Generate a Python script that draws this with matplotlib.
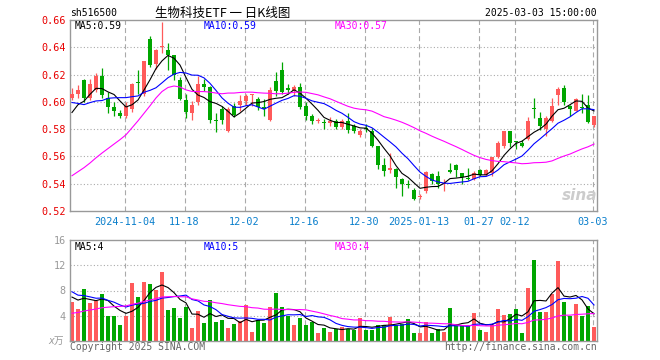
import matplotlib

matplotlib.use("Agg")
import matplotlib.pyplot as plt
import numpy as np
import pandas as pd

# ---- data ----
symbol = "sh516500"
title = "生物科技ETF 一 日K线图"
stamp = "2025-03-03 15:00:00"

holidays = ["2025-01-01", "2025-01-28", "2025-01-29", "2025-01-30", "2025-01-31",
            "2025-02-03", "2025-02-04"]
dates = [d.strftime("%Y-%m-%d") for d in pd.bdate_range("2024-10-22", "2025-03-03")
         if d.strftime("%Y-%m-%d") not in holidays]

tick_dates = ["2024-11-04", "2024-11-18", "2024-12-02", "2024-12-16", "2024-12-30",
              "2025-01-13", "2025-01-27", "2025-02-12", "2025-03-03"]
tick_text = ["2024-11-04", "11-18", "12-02", "12-16", "12-30",
             "2025-01-13", "01-27", "02-12", "03-03"]

open_ = [0.603, 0.6057, 0.616, 0.603, 0.609, 0.619, 0.603, 0.5965, 0.5917, 0.5893,
         0.5945, 0.6147, 0.6057, 0.6458, 0.628, 0.6405, 0.638, 0.634, 0.616, 0.6015,
         0.5915, 0.6002, 0.613, 0.611, 0.5866, 0.5945, 0.5788, 0.597, 0.5978, 0.6005,
         0.6048, 0.602, 0.5965, 0.5867, 0.6153, 0.6235, 0.6096, 0.6078, 0.611, 0.597,
         0.5895, 0.5858, 0.5852, 0.5843, 0.586, 0.5818, 0.586, 0.582, 0.5757, 0.5808,
         0.579, 0.568, 0.5535, 0.550, 0.551, 0.5432, 0.5395, 0.5357, 0.5302, 0.535,
         0.547, 0.5457, 0.5395, 0.5503, 0.554, 0.5478, 0.5443, 0.5435, 0.5503, 0.5462,
         0.5475, 0.5595, 0.5675, 0.5784, 0.5708, 0.5698, 0.573, 0.595, 0.5882, 0.580,
         0.5858, 0.6048, 0.610, 0.5967, 0.5935, 0.5958, 0.5975, 0.5827]
high = [0.610, 0.612, 0.617, 0.617, 0.621, 0.625, 0.6075, 0.600, 0.594, 0.600,
        0.6135, 0.623, 0.630, 0.648, 0.6385, 0.6588, 0.6435, 0.6345, 0.618, 0.6055,
        0.6007, 0.619, 0.617, 0.6115, 0.592, 0.597, 0.5965, 0.5995, 0.605, 0.606,
        0.6055, 0.6035, 0.602, 0.611, 0.622, 0.629, 0.6133, 0.612, 0.6135, 0.600,
        0.591, 0.5885, 0.5875, 0.589, 0.5875, 0.5875, 0.592, 0.5837, 0.580, 0.5835,
        0.581, 0.568, 0.5585, 0.5625, 0.5515, 0.5445, 0.543, 0.5365, 0.5325, 0.5495,
        0.5475, 0.5495, 0.5432, 0.5555, 0.5545, 0.548, 0.5515, 0.5495, 0.5505, 0.5505,
        0.5598, 0.5715, 0.579, 0.5788, 0.5712, 0.572, 0.5887, 0.6027, 0.5925, 0.5895,
        0.6027, 0.6108, 0.6125, 0.5975, 0.6025, 0.6058, 0.605, 0.5894]
low = [0.601, 0.603, 0.600, 0.601, 0.607, 0.603, 0.5915, 0.5895, 0.588, 0.5885,
       0.5925, 0.6055, 0.604, 0.6255, 0.624, 0.6357, 0.6235, 0.616, 0.601, 0.5885,
       0.5867, 0.598, 0.6076, 0.5843, 0.578, 0.584, 0.578, 0.589, 0.593, 0.598,
       0.597, 0.594, 0.5895, 0.586, 0.604, 0.606, 0.606, 0.6045, 0.5945, 0.5867,
       0.5835, 0.5842, 0.580, 0.5825, 0.580, 0.580, 0.577, 0.577, 0.574, 0.578,
       0.567, 0.5505, 0.5455, 0.5478, 0.537, 0.531, 0.5368, 0.528, 0.529, 0.5335,
       0.5395, 0.537, 0.5345, 0.548, 0.5447, 0.540, 0.543, 0.5428, 0.5455, 0.5455,
       0.5455, 0.5585, 0.566, 0.5667, 0.5657, 0.5667, 0.5722, 0.5882, 0.5797, 0.5747,
       0.585, 0.598, 0.5977, 0.590, 0.593, 0.5918, 0.5845, 0.5814]
close = [0.606, 0.6086, 0.603, 0.613, 0.619, 0.605, 0.5965, 0.5935, 0.5893, 0.597,
         0.613, 0.6140, 0.630, 0.627, 0.638, 0.6412, 0.634, 0.6197, 0.602, 0.5925,
         0.5977, 0.613, 0.6108, 0.5867, 0.5862, 0.5865, 0.595, 0.5905, 0.6007, 0.6043,
         0.6052, 0.5965, 0.5945, 0.6087, 0.6082, 0.6075, 0.6090, 0.6108, 0.5965, 0.5895,
         0.586, 0.5862, 0.5848, 0.586, 0.5815, 0.586, 0.5795, 0.5788, 0.5789, 0.5803,
         0.568, 0.5535, 0.549, 0.5512, 0.5447, 0.5395, 0.539, 0.5288, 0.5312, 0.5485,
         0.542, 0.5395, 0.540, 0.5488, 0.5503, 0.5447, 0.5435, 0.5478, 0.5462, 0.5503,
         0.5595, 0.5695, 0.5784, 0.570, 0.5705, 0.5675, 0.586, 0.5946, 0.582, 0.5882,
         0.5967, 0.6097, 0.600, 0.595, 0.602, 0.5952, 0.5852, 0.5894]
# volume, unit 10k
volume = [6.18, 5.14, 8.26, 6.03, 6.34, 7.48, 3.9, 3.9, 2.6, 4.0,
          9.14, 6.96, 9.3, 9.0, 8.1, 11.0, 4.93, 5.3, 3.58, 5.4,
          2.13, 4.78, 2.9, 6.5, 3.06, 3.38, 2.13, 2.75, 3.17, 5.71,
          1.5, 3.27, 2.9, 5.4, 7.58, 5.4, 3.9, 2.6, 3.69, 2.6,
          2.96, 1.2, 2.13, 1.5, 1.92, 2.29, 1.92, 1.77, 3.69, 1.82,
          1.7, 2.6, 2.6, 3.84, 2.6, 2.65, 3.53, 1.2, 1.2, 3.06,
          1.2, 1.92, 1.5, 5.25, 2.65, 2.55, 2.55, 4.47, 1.82, 1.5,
          2.55, 5.09, 4.16, 4.31, 5.09, 1.2, 8.36, 12.9, 4.62, 4.62,
          7.43, 12.7, 6.18, 3.9, 5.87, 3.9, 5.56, 2.29]

# sessions before the visible window, only feed the moving averages
prior_close = [0.52, 0.515, 0.51, 0.505, 0.50, 0.498, 0.495, 0.492, 0.49,
               0.46, 0.46, 0.465, 0.462, 0.465, 0.50, 0.545, 0.587,
               0.625, 0.655, 0.632,
               0.615, 0.612, 0.598, 0.607, 0.602,
               0.580, 0.590, 0.588, 0.597]
prior_volume = [1.5, 1.4, 1.3, 1.5, 1.4, 1.3, 1.5, 1.4, 1.5,
                1.5, 1.6, 1.5, 1.7, 1.7, 3.0, 3.8, 4.2, 4.8, 5.7,
                11.7, 10.5, 9.0, 8.0, 8.5, 7.2,
                7.5, 6.8, 7.0, 7.3]

# ---- derived ----
n = len(close)
x = np.arange(n)
o = np.array(open_)
c = np.array(close)
up = c >= o


def moving(prior, vals, w):
    s = pd.Series(list(prior) + list(vals)).rolling(w).mean().to_numpy()
    return s[len(prior):]


ma = {w: moving(prior_close, close, w) for w in (5, 10, 30)}
vma = {w: moving(prior_volume, volume, w) for w in (5, 10, 30)}

RED = "#ff5a5a"
GREEN = "#00a600"
MA_COLORS = {5: "black", 10: "#0000ff", 30: "#ff00ff"}
GRID = "#aaaaaa"
MONO = ["DejaVu Sans Mono", "Noto Sans CJK SC"]

W, H = 660, 360
fig = plt.figure(figsize=(W / 100, H / 100), dpi=100)


def box(l, t, r, b):
    return [l / W, 1 - b / H, (r - l) / W, (b - t) / H]


def ftext(px, py, s, **kw):
    kw.setdefault("family", MONO)
    kw.setdefault("fontsize", 7)
    fig.text(px / W, 1 - py / H, s, **kw)


ax1 = fig.add_axes(box(70, 20, 597, 211))
ax2 = fig.add_axes(box(70, 240, 597, 341))
tick_pos = [dates.index(d) - 0.25 for d in tick_dates]

for ax in (ax1, ax2):
    ax.set_xlim(-1 / 3, 87.5)
    for sp in ax.spines.values():
        sp.set_color("#999999")
        sp.set_linewidth(1)
    for p in tick_pos:
        ax.axvline(p, color=GRID, lw=0.8, dashes=(4.5, 2.8), zorder=0)
    ax.tick_params(length=0)

# price panel
ax1.set_ylim(0.52, 0.66)
for lv in [0.54, 0.56, 0.58, 0.60, 0.62, 0.64]:
    ax1.axhline(lv, color=GRID, lw=0.8, dashes=(1, 2), zorder=0)
ax1.set_yticks([0.52, 0.54, 0.56, 0.58, 0.60, 0.62, 0.64, 0.66])
ax1.set_yticklabels([f"{v:.2f}" for v in ax1.get_yticks()], color="#e80000",
                    fontsize=7.3, family=MONO)
ax1.set_xticks(tick_pos)
ax1.set_xticklabels(tick_text, color="#0a7fcc", fontsize=7.3, family=MONO)
ax1.tick_params(axis="y", pad=3)
ax1.tick_params(axis="x", pad=4)

cols = np.where(up, RED, GREEN)
ax1.vlines(x, low, high, colors=cols, lw=0.9, zorder=2)
body = np.maximum(np.abs(c - o), 0.0008)
ax1.bar(x, body, bottom=np.minimum(o, c), width=0.8, color=cols, zorder=3)
for w in (5, 10, 30):
    ax1.plot(x, ma[w], color=MA_COLORS[w], lw=0.8, zorder=4)

# volume panel
ax2.set_ylim(0, 16)
for lv in [4, 8, 12]:
    ax2.axhline(lv, color=GRID, lw=0.8, dashes=(1, 2), zorder=0)
ax2.set_yticks([4, 8, 12, 16])
ax2.set_yticklabels(["4", "8", "12", "16"], color="#999999", fontsize=7.3, family=MONO)
ax2.set_xticks([])
ax2.tick_params(axis="y", pad=3)
ax2.bar(x, volume, width=0.82, color=cols, zorder=2)
for w in (5, 10, 30):
    ax2.plot(x, vma[w], color=MA_COLORS[w], lw=0.8, zorder=3)

# header and labels
ftext(70, 13, symbol, va="center")
fig.text(223 / W, 1 - 13 / H, title, ha="center", va="center", fontsize=9,
         family=["Noto Sans CJK SC", "DejaVu Sans"])
ftext(597, 13, stamp, ha="right", va="center")

for px, w in ((75, 5), (204, 10), (335, 30)):
    ftext(px, 26, f"MA{w}:{ma[w][-1]:.2f}", color=MA_COLORS[w], va="center")
    ftext(px, 247, f"MA{w}:{int(vma[w][-1])}", color=MA_COLORS[w], va="center")

ftext(56, 341, "x万", color="#999999", ha="center", va="center", style="italic")
ftext(70, 347, "Copyright 2025 SINA.COM", color="#666666", va="center")
ftext(597, 347, "http://finance.sina.com.cn", color="#666666", ha="right", va="center")
ftext(580, 196, "sina", color="#cccccc", ha="center", va="center", fontsize=11,
      style="italic", weight="bold", family=["DejaVu Sans"])

fig.savefig("out.png", dpi=100, facecolor="white")
